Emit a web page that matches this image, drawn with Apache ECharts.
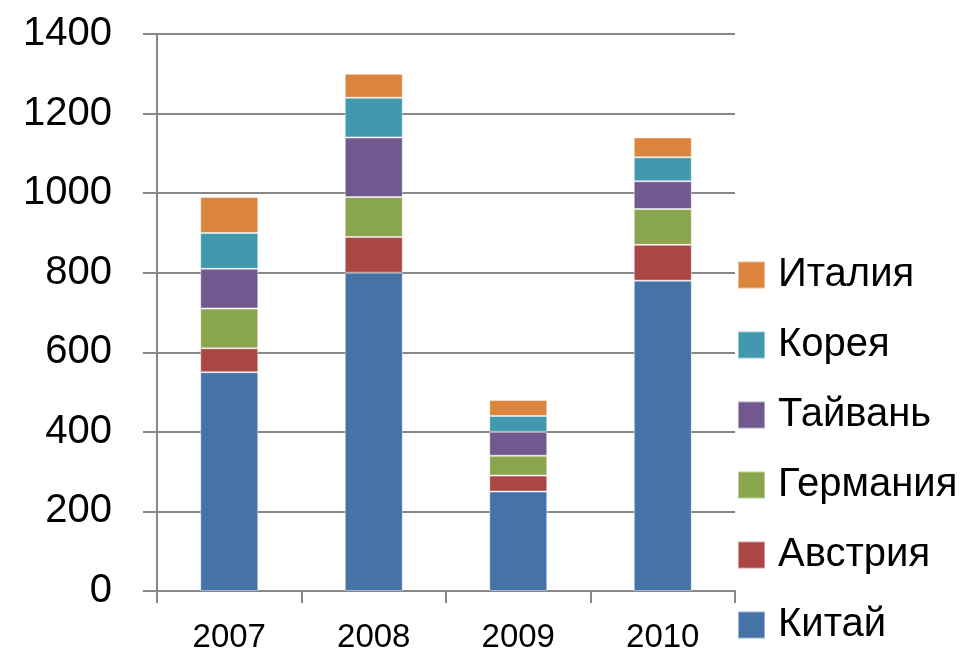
<!DOCTYPE html>
<html>
<head>
<meta charset="utf-8">
<script src="https://cdn.jsdelivr.net/npm/echarts@6/dist/echarts.min.js"></script>
<style>
  html, body { margin: 0; padding: 0; background: #fff; }
  #chart { width: 974px; height: 654px; }
</style>
</head>
<body>
<div id="chart"></div>
<script>
var years = ['2007', '2008', '2009', '2010'];

// bottom to top of each stack
var china   = [550, 800, 250, 780];
var austria = [60, 90, 40, 90];
var germany = [100, 100, 50, 90];
var taiwan  = [100, 150, 60, 70];
var korea   = [90, 100, 40, 60];
var italy   = [90, 60, 40, 50];

var yTicks = [0, 200, 400, 600, 800, 1000, 1200, 1400];

var font = 'Liberation Sans';
var gridColor = '#888888';

function bar(name, data, color) {
    return {
        name: name,
        type: 'bar',
        stack: 'total',
        barWidth: 58,
        data: data,
        itemStyle: {
            color: color,
            borderColor: 'rgba(255,255,255,0.45)',
            borderWidth: 1
        }
    };
}

var chart = echarts.init(document.getElementById('chart'));

chart.setOption({
    backgroundColor: '#fff',
    animation: false,
    textStyle: { fontFamily: font },
    grid: {
        left: 157,
        right: 239,
        top: 34,
        bottom: 62
    },
    legend: {
        orient: 'vertical',
        left: 737,
        top: 255,
        padding: 0,
        itemWidth: 27,
        itemHeight: 27,
        itemGap: 30,
        icon: 'rect',
        data: ['Италия', 'Корея', 'Тайвань', 'Германия', 'Австрия', 'Китай'],
        textStyle: {
            fontFamily: font,
            fontSize: 40,
            color: '#000',
            lineHeight: 40,
            padding: [0, 0, 0, 8]
        }
    },
    xAxis: {
        type: 'category',
        data: years,
        axisLine: { lineStyle: { color: gridColor, width: 2 } },
        axisTick: {
            show: true,
            length: 12,
            lineStyle: { color: gridColor, width: 2 }
        },
        axisLabel: {
            color: '#000',
            fontSize: 33,
            fontFamily: font,
            margin: 30
        }
    },
    yAxis: {
        type: 'value',
        min: yTicks[0],
        max: yTicks[yTicks.length - 1],
        interval: 200,
        axisLine: { show: true, lineStyle: { color: gridColor, width: 2 } },
        axisTick: {
            show: true,
            length: 14,
            lineStyle: { color: gridColor, width: 2 }
        },
        splitLine: { lineStyle: { color: gridColor, width: 2 } },
        axisLabel: {
            color: '#000',
            fontSize: 40,
            fontFamily: font,
            margin: 45,
            formatter: function (v) { return String(v); }
        }
    },
    series: [
        bar('Китай', china, '#4572A7'),
        bar('Австрия', austria, '#AA4643'),
        bar('Германия', germany, '#89A54E'),
        bar('Тайвань', taiwan, '#71588F'),
        bar('Корея', korea, '#4198AF'),
        bar('Италия', italy, '#DB843D')
    ]
});

window.onresize = chart.resize;
</script>
</body>
</html>
